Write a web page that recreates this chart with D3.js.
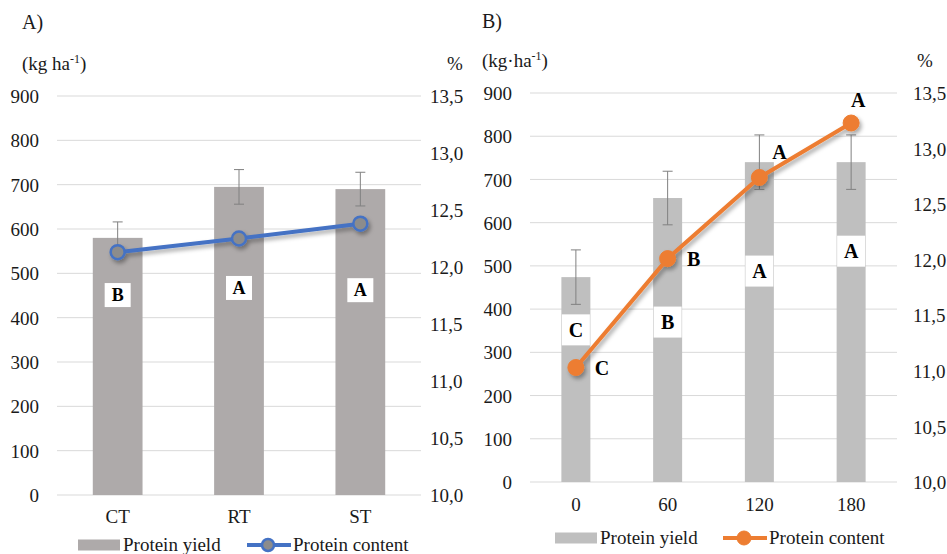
<!DOCTYPE html>
<html><head><meta charset="utf-8">
<script src="https://cdn.jsdelivr.net/npm/d3@7"></script>
<style>body{margin:0;background:#fff;}</style></head>
<body><svg id="c" width="947" height="554"></svg>
<script>
// ---------- data ----------
const leftTicks = [0,100,200,300,400,500,600,700,800,900];
const rightTicks = [10,10.5,11,11.5,12,12.5,13,13.5];

const catsA = ["CT","RT","ST"];
const yieldA = [580, 695, 690];
const yieldErrA = [36, 39, 38];
const contentA = [12.13, 12.25, 12.38];
const yieldLettersA = ["B","A","A"];
const yieldLetterValA = [451, 467, 462];

const catsB = ["0","60","120","180"];
const yieldB = [474, 657, 740, 740];
const yieldErrB = [63, 62, 63, 63];
const contentB = [11.03, 12.01, 12.74, 13.23];
const yieldLettersB = ["C","B","A","A"];
const yieldLetterValB = [352, 370, 488, 534];
const contentLettersB = ["C","B","A","A"];

const FONT = "'Liberation Serif'";
const FS = 19;
const svg = d3.select("#c");
const defs = svg.append("defs");
const f = defs.append("filter").attr("id","sh").attr("x","-20%").attr("y","-20%").attr("width","140%").attr("height","160%");
f.append("feDropShadow").attr("dx",2).attr("dy",3).attr("stdDeviation",2).attr("flood-color","#000").attr("flood-opacity",0.35);

const fmtR = d => d.toFixed(1).replace(".", ",");

function txt(sel, size){
  return sel.attr("font-family",FONT).attr("font-size",size).attr("fill","#1a1a1a");
}

function panel(o){
  const g = svg.append("g");
  const x = d3.scaleBand().domain(o.cats).range([o.x0,o.x1]).paddingInner(o.pin).paddingOuter(o.pin/2);
  const y = d3.scaleLinear().domain([0,900]).range([o.yb,o.yt]);
  const y2 = d3.scaleLinear().domain([10,13.5]).range([o.yb,o.yt]);

  // title and units
  txt(g.append("text"),20).attr("x",o.titleX).attr("y",o.titleY).text(o.title);
  const u = txt(g.append("text"),FS).attr("x",o.titleX).attr("y",o.unitY);
  u.append("tspan").text(o.unit);
  u.append("tspan").attr("font-size",12).attr("dy",-7).text("-1");
  u.append("tspan").attr("dy",7).text(")");
  txt(g.append("text"),FS).attr("x",o.pctX).attr("y",o.unitY).text("%");

  // grid
  g.append("g").selectAll("line").data(leftTicks).join("line")
    .attr("x1",o.x0).attr("x2",o.x1).attr("y1",d=>y(d)).attr("y2",d=>y(d))
    .attr("stroke","#d9d9d9").attr("stroke-width",1);

  // left axis
  const la = g.append("g").attr("transform",`translate(${o.x0-18},0)`)
    .call(d3.axisLeft(y).tickValues(leftTicks).tickSize(0).tickPadding(0));
  la.select(".domain").remove();
  txt(la.selectAll("text"),FS).attr("dy","0.35em");

  // right axis
  const ra = g.append("g").attr("transform",`translate(${o.rX},0)`)
    .call(d3.axisRight(y2).tickValues(rightTicks).tickFormat(fmtR).tickSize(0).tickPadding(0));
  ra.select(".domain").remove();
  txt(ra.selectAll("text"),FS).attr("dy","0.35em");

  // category axis
  const ca = g.append("g").attr("transform",`translate(0,${o.yb})`)
    .call(d3.axisBottom(x).tickSize(0).tickPadding(o.catPad));
  ca.select(".domain").remove();
  txt(ca.selectAll("text"),FS);

  // bars
  g.append("g").selectAll("rect").data(o.cats).join("rect")
    .attr("x",d=>x(d)).attr("width",x.bandwidth())
    .attr("y",(d,i)=>y(o.yield[i])).attr("height",(d,i)=>y(0)-y(o.yield[i]))
    .attr("fill",o.barColor);

  // error bars
  const eb = g.append("g").attr("stroke","#808080").attr("stroke-width",1);
  o.cats.forEach((c,i)=>{
    const cx = x(c)+x.bandwidth()/2;
    const t = y(o.yield[i]+o.err[i]), b = y(o.yield[i]-o.err[i]);
    eb.append("line").attr("x1",cx).attr("x2",cx).attr("y1",t).attr("y2",b);
    eb.append("line").attr("x1",cx-5).attr("x2",cx+5).attr("y1",t).attr("y2",t);
    eb.append("line").attr("x1",cx-5).attr("x2",cx+5).attr("y1",b).attr("y2",b);
  });

  // bar letters
  o.cats.forEach((c,i)=>{
    const cx = x(c)+x.bandwidth()/2, cy = y(o.letterVal[i]);
    g.append("rect").attr("x",cx-o.boxW/2).attr("y",cy-o.boxH/2).attr("width",o.boxW).attr("height",o.boxH).attr("fill","#fff");
    txt(g.append("text"),o.letterSize).attr("x",cx).attr("y",cy).attr("dy","0.35em").attr("text-anchor","middle")
      .attr("font-weight","bold").attr("fill","#000").text(o.letters[i]);
  });

  // line
  const pts = o.cats.map((c,i)=>[x(c)+x.bandwidth()/2, y2(o.content[i])]);
  const lg = g.append("g").attr("filter","url(#sh)");
  lg.append("path").attr("d",d3.line()(pts)).attr("fill","none").attr("stroke",o.lineColor).attr("stroke-width",4).attr("stroke-linejoin","round");
  lg.selectAll("circle").data(pts).join("circle").attr("cx",d=>d[0]).attr("cy",d=>d[1]).attr("r",o.mr)
    .attr("fill",o.markerFill).attr("stroke",o.lineColor).attr("stroke-width",o.markerStroke);

  if(o.lineLetters){
    pts.forEach((p,i)=>{
      txt(g.append("text"),20).attr("x",p[0]+o.llOff[i][0]).attr("y",p[1]+o.llOff[i][1]).attr("dy","0.35em")
        .attr("text-anchor","middle").attr("font-weight","bold").attr("fill","#000").text(o.lineLetters[i]);
    });
  }

  // legend
  const L = o.legend;
  g.append("rect").attr("x",L.x).attr("y",L.y-5.5).attr("width",42).attr("height",11).attr("fill",o.barColor);
  txt(g.append("text"),FS).attr("x",L.x+45).attr("y",L.y).attr("dy","0.33em").text("Protein yield");
  g.append("line").attr("x1",L.x2).attr("x2",L.x2+44).attr("y1",L.y).attr("y2",L.y).attr("stroke",o.lineColor).attr("stroke-width",4);
  g.append("circle").attr("cx",L.x2+21).attr("cy",L.y).attr("r",o.mr-1).attr("fill",o.markerFill).attr("stroke",o.lineColor).attr("stroke-width",o.markerStroke);
  txt(g.append("text"),FS).attr("x",L.x2+46).attr("y",L.y).attr("dy","0.33em").text("Protein content");
}

panel({
  cats:catsA, yield:yieldA, err:yieldErrA, content:contentA, letters:yieldLettersA, letterVal:yieldLetterValA,
  x0:57, x1:421, yb:495, yt:96, pin:0.59, rX:430, pctX:447, catPad:15,
  title:"A)", titleX:22, titleY:29, unit:"(kg ha", unitY:70,
  barColor:"#aeaaaa", lineColor:"#4472c4", markerFill:"#8c8c8c", markerStroke:2.5, mr:7,
  boxW:26, boxH:24, letterSize:18,
  legend:{x:78, y:545, x2:247}
});

panel({
  cats:catsB, yield:yieldB, err:yieldErrB, content:contentB, letters:yieldLettersB, letterVal:yieldLetterValB,
  x0:530, x1:897, yb:482, yt:93, pin:0.684, rX:913, pctX:917, catPad:16,
  title:"B)", titleX:482, titleY:28, unit:"(kg·ha", unitY:67,
  barColor:"#bfbfbf", lineColor:"#ed7d31", markerFill:"#ed7d31", markerStroke:1, mr:8,
  boxW:28, boxH:31, letterSize:20,
  lineLetters:contentLettersB, llOff:[[26,0],[26,0],[20,-25],[7,-23]],
  legend:{x:555, y:538, x2:723}
});
</script></body></html>
